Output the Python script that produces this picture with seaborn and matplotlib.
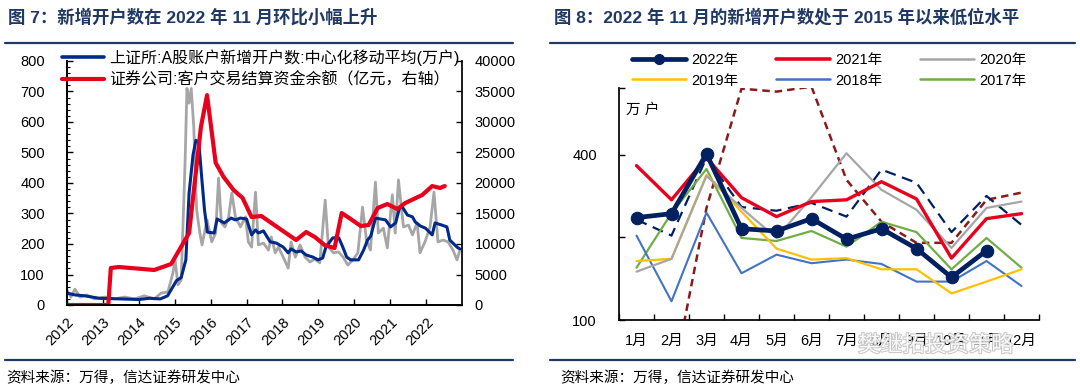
import matplotlib.pyplot as plt
import matplotlib.patheffects as pe
from matplotlib.lines import Line2D
from matplotlib.ticker import MultipleLocator, FixedLocator, NullLocator
import seaborn as sns

# ---------- 图7 数据 ----------
# 上证所A股新增开户数(周度, 万户)
gray_t = [2012.00, 2012.11, 2012.22, 2012.36, 2012.55, 2012.77, 2013.05, 2013.32, 2013.60, 2013.88,
          2014.15, 2014.43, 2014.62, 2014.81, 2014.95, 2015.01, 2015.09, 2015.18, 2015.29, 2015.34,
          2015.40, 2015.46, 2015.53, 2015.61, 2015.70, 2015.76, 2015.90, 2016.03, 2016.14, 2016.22,
          2016.30, 2016.40, 2016.50, 2016.59, 2016.69, 2016.83, 2016.97, 2017.05, 2017.14, 2017.25,
          2017.33, 2017.47, 2017.61, 2017.69, 2017.80, 2017.89, 2018.02, 2018.16, 2018.24, 2018.36,
          2018.49, 2018.63, 2018.77, 2018.90, 2019.04, 2019.19, 2019.28, 2019.42, 2019.56, 2019.69,
          2019.82, 2019.96, 2020.10, 2020.23, 2020.34, 2020.45, 2020.59, 2020.67, 2020.81, 2020.92,
          2021.06, 2021.14, 2021.23, 2021.37, 2021.51, 2021.62, 2021.75, 2021.83, 2021.97, 2022.11,
          2022.22, 2022.33, 2022.47, 2022.61, 2022.75, 2022.86, 2022.94]
gray_v = [49, 26, 52, 26, 33, 20, 26, 20, 26, 20,
          30, 20, 39, 43, 105, 148, 66, 82, 475, 710,
          662, 710, 584, 311, 236, 197, 279, 207, 236, 416,
          269, 256, 289, 367, 289, 256, 289, 207, 190, 370,
          197, 203, 180, 223, 171, 190, 157, 121, 207, 157,
          197, 157, 141, 151, 138, 344, 190, 171, 174, 157,
          131, 148, 171, 321, 213, 180, 403, 236, 252, 187,
          361, 236, 410, 256, 262, 230, 269, 171, 207, 256,
          370, 207, 213, 207, 180, 148, 180]

# 中心化移动平均(万户)
ma_t = [2012.00, 2012.22, 2012.50, 2012.90, 2013.50, 2014.00, 2014.30, 2014.60, 2014.80, 2014.90,
        2015.05, 2015.18, 2015.31, 2015.40, 2015.51, 2015.59, 2015.67, 2015.75, 2015.83, 2015.91,
        2016.10, 2016.18, 2016.38, 2016.57, 2016.69, 2016.83, 2017.00, 2017.14, 2017.25, 2017.33,
        2017.47, 2017.66, 2017.83, 2018.02, 2018.16, 2018.24, 2018.38, 2018.52, 2018.66, 2018.85,
        2018.99, 2019.12, 2019.21, 2019.40, 2019.57, 2019.68, 2019.79, 2019.90, 2020.12, 2020.26,
        2020.37, 2020.46, 2020.59, 2020.73, 2020.87, 2021.01, 2021.15, 2021.26, 2021.34, 2021.48,
        2021.62, 2021.70, 2021.84, 2021.98, 2022.17, 2022.25, 2022.44, 2022.58, 2022.66, 2022.86,
        2022.94]
ma_v = [39, 33, 30, 22, 20, 18, 22, 20, 30, 50,
        80, 90, 148, 367, 492, 540, 535, 420, 311, 239,
        236, 282, 269, 285, 279, 285, 282, 230, 246, 236,
        243, 207, 203, 190, 171, 184, 174, 177, 164, 157,
        148, 154, 190, 220, 220, 190, 157, 148, 148, 180,
        213, 226, 285, 282, 279, 256, 269, 318, 321, 295,
        289, 272, 259, 252, 230, 269, 262, 256, 213, 190,
        184]

# 客户交易结算资金余额(亿元)
fund_t = [2012.00, 2013.15, 2013.22, 2013.44, 2014.43, 2014.90, 2015.40, 2015.73, 2015.90, 2016.14,
          2016.36, 2016.64, 2016.89, 2017.14, 2017.41, 2018.38, 2018.66, 2018.90, 2019.18, 2019.45,
          2019.65, 2019.90, 2020.18, 2020.40, 2020.65, 2020.92, 2021.20, 2021.42, 2021.89, 2022.17,
          2022.39, 2022.52]
fund_v = [0, 0, 6060, 6230, 5740, 6720, 11800, 29200, 34400, 23300,
          21000, 18850, 17540, 14420, 14590, 10650, 11960, 11150, 9800, 9340,
          15080, 14100, 12950, 13110, 15900, 16550, 15730, 16720, 18030, 19500,
          19180, 19500]

years = list(range(2012, 2023))

# ---------- 图8 数据 ----------
months = ["1月", "2月", "3月", "4月", "5月", "6月", "7月", "8月", "9月", "10月", "11月", "12月"]
y2022 = [236, 244, 403, 215, 211, 234, 197, 215, 182, 143, 179]
y2021 = [365, 274, 390, 279, 238, 270, 274, 319, 276, 168, 234, 244]
y2020 = [150, 167, 335, 256, 199, 280, 405, 298, 252, 183, 256, 270]
y2019 = [164, 167, 338, 248, 182, 166, 168, 153, 153, 125, 138, 153]
y2018 = [203, 117, 246, 148, 173, 161, 166, 160, 138, 138, 164, 133]
y2017 = [155, 245, 355, 199, 194, 211, 185, 228, 209, 153, 199, 155]
y2016 = [232, 203, 390, 258, 250, 267, 238, 353, 316, 209, 283, 222]
y2015 = [97, 57, 256, 696, 679, 708, 324, 228, 191, 191, 274, 291]

sns.set_theme(style="ticks")
plt.rcParams['font.family'] = ['Liberation Sans', 'Noto Sans CJK SC']
plt.rcParams['text.color'] = 'black'
plt.rcParams['xtick.color'] = 'black'
plt.rcParams['ytick.color'] = 'black'
plt.rcParams['axes.edgecolor'] = 'black'

W, H = 1080, 392
fig = plt.figure(figsize=(10.8, 3.92), dpi=100)
navy_title = '#1f3864'

def fx(px):
    return px / W

def fy(py):
    return 1 - py / H

# titles, separators, sources
fig.text(fx(8), fy(17), "图 7：新增开户数在 2022 年 11 月环比小幅上升", fontsize=12.5,
         fontweight='bold', color=navy_title, va='center')
fig.text(fx(554), fy(17), "图 8：2022 年 11 月的新增开户数处于 2015 年以来低位水平", fontsize=12.5,
         fontweight='bold', color=navy_title, va='center')
for x0, x1 in [(5, 513), (550, 1075)]:
    fig.add_artist(Line2D([fx(x0), fx(x1)], [fy(43), fy(43)], color=navy_title, lw=1.6))
    fig.add_artist(Line2D([fx(x0), fx(x1)], [fy(360), fy(360)], color=navy_title, lw=1.6))
fig.text(fx(6), fy(378), "资料来源：万得，信达证券研发中心", fontsize=10.5, va='center')
fig.text(fx(560), fy(378), "资料来源：万得，信达证券研发中心", fontsize=10.5, va='center')

# ---------- 图7 ----------
ax1 = fig.add_axes([fx(67), fy(305), fx(395), 244 / H])
sns.lineplot(x=gray_t, y=gray_v, ax=ax1, color='#a6a6a6', lw=2)
sns.lineplot(x=ma_t, y=ma_v, ax=ax1, color='#002a8a', lw=2.2)
ax2 = ax1.twinx()
sns.lineplot(x=fund_t, y=fund_v, ax=ax2, color='#e8001c', lw=3)

ax1.set_xlim(2012, 2023)
ax1.set_ylim(0, 800)
ax2.set_ylim(0, 40000)
ax1.set_xticks(years)
ax1.set_xticklabels([str(y) for y in years], rotation=45, ha='right', rotation_mode='anchor')
ax1.set_yticks(range(0, 801, 100))
ax1.yaxis.set_minor_locator(MultipleLocator(20))
ax2.set_yticks(range(0, 40001, 5000))
ax1.tick_params(axis='x', direction='in', length=4, width=1, labelsize=10.5, pad=7)
ax1.tick_params(axis='y', which='major', direction='in', length=4, width=1, labelsize=10.5, pad=16)
ax1.tick_params(axis='y', which='minor', direction='in', length=2.5, width=0.8)
ax2.tick_params(axis='y', direction='in', length=4, width=1, labelsize=10.5, pad=9)
for a in (ax1, ax2):
    a.spines['top'].set_visible(False)
    a.set_xlabel('')
    a.set_ylabel('')
ax1.spines['right'].set_visible(False)

handles = [Line2D([], [], color='#002a8a', lw=2.6), Line2D([], [], color='#e8001c', lw=3)]
labels = ["上证所:A股账户新增开户数:中心化移动平均(万户)", "证券公司:客户交易结算资金余额（亿元，右轴）"]
fig.legend(handles, labels, loc='upper left', bbox_to_anchor=(fx(62), fy(49)), frameon=False,
           fontsize=11.5, handlelength=2.6, handletextpad=0.35, labelspacing=0.4, borderpad=0,
           borderaxespad=0)

# ---------- 图8 ----------
ax3 = fig.add_axes([fx(619), fy(320), fx(420), 232 / H])
idx = list(range(12))
sns.lineplot(x=idx, y=y2015, ax=ax3, color='#8b1a1a', lw=1.8, linestyle=(0, (3, 2)))
sns.lineplot(x=idx, y=y2016, ax=ax3, color='#002060', lw=1.6, linestyle=(0, (5, 3)))
sns.lineplot(x=idx, y=y2017, ax=ax3, color='#70ad47', lw=1.6)
sns.lineplot(x=idx, y=y2018, ax=ax3, color='#4472c4', lw=1.5)
sns.lineplot(x=idx, y=y2019, ax=ax3, color='#ffc000', lw=1.6)
sns.lineplot(x=idx, y=y2020, ax=ax3, color='#a6a6a6', lw=1.6)
sns.lineplot(x=idx, y=y2021, ax=ax3, color='#e8001c', lw=2.4)
sns.lineplot(x=idx[:len(y2022)], y=y2022, ax=ax3, color='#002060', lw=3.4,
             marker='o', markersize=9, markeredgecolor='#002060')

ax3.set_yscale('log', base=2)
ax3.set_ylim(100, 700)
ax3.set_xlim(-0.5, 11.5)
ax3.yaxis.set_major_locator(FixedLocator([100, 200, 400, 700]))
ax3.set_yticklabels(["100", "", "400", ""])
ax3.yaxis.set_minor_locator(NullLocator())
ax3.set_xticks(idx)
ax3.set_xticklabels(months)
ax3.xaxis.set_minor_locator(FixedLocator([i - 0.5 for i in range(13)]))
ax3.tick_params(axis='x', which='major', length=0, labelsize=10.5, pad=10)
ax3.tick_params(axis='x', which='minor', direction='in', length=4, width=1)
ax3.tick_params(axis='y', which='major', direction='in', length=4, width=1, labelsize=10.5, pad=16)
ax3.spines['top'].set_visible(False)
ax3.spines['right'].set_visible(False)
ax3.set_xlabel('')
ax3.set_ylabel('')
ax3.text(fx(626), fy(110), "万 户", transform=fig.transFigure, fontsize=10.5, va='center',
         fontstyle='italic')

leg_items = [("2022年", dict(color='#002060', lw=3.4, marker='o', markersize=7)),
             ("2019年", dict(color='#ffc000', lw=1.8)),
             ("2021年", dict(color='#e8001c', lw=2.6)),
             ("2018年", dict(color='#4472c4', lw=1.8)),
             ("2020年", dict(color='#a6a6a6', lw=1.8)),
             ("2017年", dict(color='#70ad47', lw=1.8))]
h3 = [Line2D([], [], **kw) for _, kw in leg_items]
l3 = [t for t, _ in leg_items]
fig.legend(h3, l3, loc='upper left', bbox_to_anchor=(fx(632), fy(53)), ncol=3, frameon=False,
           fontsize=10.5, handlelength=3.7, handletextpad=0.35, columnspacing=2.6,
           labelspacing=0.45, borderpad=0, borderaxespad=0)

# watermark
fig.text(fx(858), fy(346), "樊继拓投资策略", fontsize=16, color='white', va='center', alpha=0.9,
         path_effects=[pe.withStroke(linewidth=1.4, foreground='#c0c0c0')])

fig.savefig("out.png", dpi=100)
